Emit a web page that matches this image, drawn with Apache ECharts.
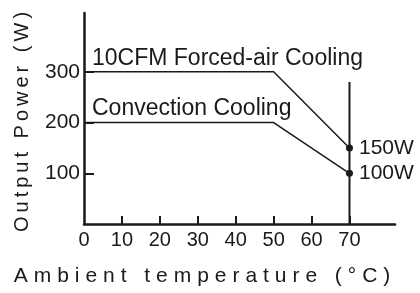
<!DOCTYPE html>
<html>
<head>
<meta charset="utf-8">
<script src="https://cdn.jsdelivr.net/npm/echarts@6/dist/echarts.min.js"></script>
<style>
  html, body { margin: 0; padding: 0; background: #fff; }
  #chart { width: 420px; height: 293px; }
</style>
</head>
<body>
<div id="chart"></div>
<script>
// derating curve data
const temps = [0, 50, 70]
const forcedAir = [300, 300, 150]
const convection = [200, 200, 100]
const xTicks = [0, 10, 20, 30, 40, 50, 60, 70]
const yTicks = [100, 200, 300]
const derateTemp = 70
const derateTop = 280

const ink = '#1a1a1a'
const font = 'Liberation Sans, Arial, sans-serif'

// spread letters out (original uses wide letter spacing)
function spaced(str, gap) {
    return str.split(' ').map(w => w.split('').join(gap)).join(gap + ' ' + gap)
}

function curve(values, name, endLabel) {
    return values.map((v, i) => {
        const item = { value: [temps[i], v] }
        if (i === 0) {
            item.label = {
                show: true,
                position: 'top',
                align: 'left',
                distance: 2,
                offset: [8, 0],
                fontSize: 23,
                formatter: name
            }
        }
        if (i === values.length - 1) {
            item.symbolSize = 7
            item.label = {
                show: true,
                position: 'right',
                distance: 6,
                formatter: endLabel
            }
        }
        return item
    })
}

const chart = echarts.init(document.getElementById('chart'))

chart.setOption({
    animation: false,
    grid: { left: 84, right: 25, top: 13, bottom: 69 },
    xAxis: {
        type: 'value',
        min: 0,
        max: 82,
        axisLine: { lineStyle: { color: ink, width: 2.5 } },
        splitLine: { show: false },
        axisTick: {
            show: true,
            inside: true,
            length: 8,
            customValues: xTicks.slice(1),
            lineStyle: { color: ink, width: 2 }
        },
        axisLabel: {
            customValues: xTicks,
            margin: 6,
            color: ink,
            fontFamily: font,
            fontSize: 20
        }
    },
    yAxis: {
        type: 'value',
        min: 0,
        max: 416,
        axisLine: { show: true, lineStyle: { color: ink, width: 2.5 } },
        splitLine: { show: false },
        axisTick: {
            show: true,
            inside: true,
            length: 10,
            customValues: yTicks,
            lineStyle: { color: ink, width: 2 }
        },
        axisLabel: {
            customValues: yTicks,
            margin: 4,
            color: ink,
            fontFamily: font,
            fontSize: 21
        }
    },
    graphic: [
        {
            type: 'text',
            x: 22,
            y: 122,
            rotation: Math.PI / 2,
            style: {
                text: spaced('Output Power (W)', '\u2009'),
                align: 'center',
                verticalAlign: 'middle',
                fill: ink,
                font: '20px ' + font
            }
        },
        {
            type: 'text',
            x: 202,
            y: 276,
            style: {
                text: spaced('Ambient temperature (°C)', '\u2009\u200a'),
                align: 'center',
                verticalAlign: 'middle',
                fill: ink,
                font: '21px ' + font
            }
        }
    ],
    series: [
        {
            type: 'line',
            data: curve(forcedAir, '10CFM Forced-air Cooling', '150W'),
            symbol: 'circle',
            symbolSize: 0,
            showAllSymbol: true,
            lineStyle: { color: ink, width: 1.5 },
            itemStyle: { color: ink },
            label: { color: ink, fontFamily: font, fontSize: 21 }
        },
        {
            type: 'line',
            data: curve(convection, 'Convection Cooling', '100W'),
            symbol: 'circle',
            symbolSize: 0,
            showAllSymbol: true,
            lineStyle: { color: ink, width: 1.5 },
            itemStyle: { color: ink },
            label: { color: ink, fontFamily: font, fontSize: 21 }
        },
        {
            // vertical derating limit line at 70°C
            type: 'line',
            data: [[derateTemp, 0], [derateTemp, derateTop]],
            symbol: 'none',
            lineStyle: { color: ink, width: 2 }
        }
    ]
})
</script>
</body>
</html>
